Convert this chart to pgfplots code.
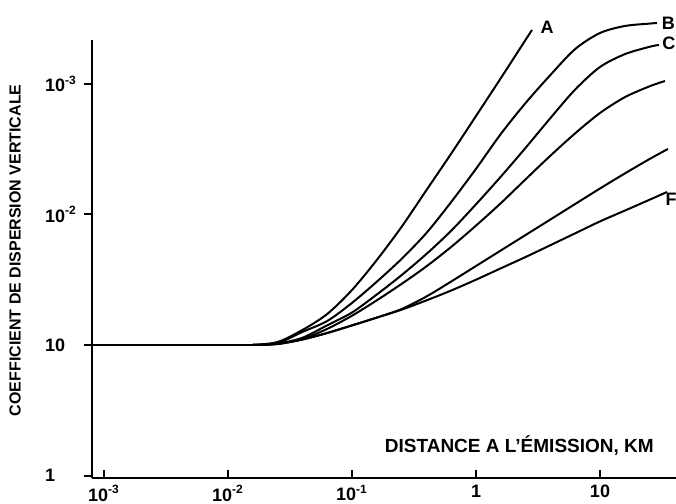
\documentclass[border=0pt]{standalone}
\usepackage{pgfplots}
\pgfplotsset{compat=1.18}
\usepackage{fontspec}
\setmainfont{Liberation Sans}

\begin{document}
\begin{tikzpicture}
\begin{axis}[
  scale only axis,
  width=292pt, height=219pt,
  xmode=log, ymode=log,
  xmin=0.0008, xmax=41,
  ymin=0.957, ymax=2173,
  axis x line=bottom, axis y line=left,
  axis line style={-, line width=1.2pt},
  xminorticks=false, yminorticks=false,
  xtick={0.001,0.01,0.1,1,10},
  xticklabels={10\textsuperscript{-3},10\textsuperscript{-2},10\textsuperscript{-1},1,10},
  ytick={1,10,100,1000},
  yticklabels={1,10,10\textsuperscript{-2},10\textsuperscript{-3}},
  tick align=inside,
  major tick length=4pt,
  tick style={line width=1pt, black},
  ytick style={xshift=-4pt},
  ticklabel style={font=\bfseries\fontsize{9}{10}\selectfont},
  yticklabel style={anchor=west, xshift=-27pt},
  /pgf/number format/assume math mode=true,
  clip=false,
  crv/.style={black, line width=1pt, smooth, no markers, solid},
]
% common flat part
\addplot[black, line width=1pt, no markers] coordinates {(0.0008,10) (0.01585,10)};
% A
\addplot[crv] coordinates {
  (0.01585,10) (0.02512,10.54) (0.03981,13.03) (0.06310,17.28)
  (0.1,26.40) (0.1585,44.80) (0.2512,80.49) (0.3981,153.6) (0.6310,292.9)
  (1,568.5) (1.585,1108) (2.512,2181) (2.829,2593)};
% B
\addplot[crv] coordinates {
  (0.01585,10) (0.02512,10.36) (0.03981,12.60) (0.06310,15.27)
  (0.1,21.02) (0.1585,30.56) (0.2512,45.69) (0.3981,72.13) (0.6310,124.7)
  (1,223.9) (1.585,414.0) (2.512,715.2) (3.981,1172) (6.310,1854)
  (10,2459) (15.85,2782) (25.12,2903) (28.84,2934)};
% C
\addplot[crv] coordinates {
  (0.01585,10) (0.02512,10.27) (0.03981,11.36) (0.06310,14.16)
  (0.1,17.74) (0.1585,24.38) (0.2512,34.32) (0.3981,49.81) (0.6310,75.14)
  (1,119.7) (1.585,194.9) (2.512,324.4) (3.981,547.9) (6.310,907.7)
  (10,1350) (15.85,1692) (25.12,1928) (29.9,1991)};
% D
\addplot[crv] coordinates {
  (0.01585,10) (0.02512,10.23) (0.03981,11.12) (0.06310,13.29)
  (0.1,16.77) (0.1585,22.00) (0.2512,29.39) (0.3981,40.03) (0.6310,56.46)
  (1,82.21) (1.585,122.1) (2.512,186.1) (3.981,282.2) (6.310,419.0)
  (10,599.7) (15.85,792.4) (25.12,960.3) (33.42,1054)};
% E
\addplot[crv] coordinates {
  (0.01585,10) (0.02512,10.18) (0.03981,11.02) (0.06310,12.36)
  (0.1,14.13) (0.1585,16.22) (0.2512,18.87) (0.3981,23.53) (0.6310,30.66)
  (1,40.31) (1.585,52.98) (2.512,69.65) (3.981,91.55) (6.310,120.4)
  (10,158.2) (15.85,206.2) (25.12,266.2) (35.32,317.7)};
% F
\addplot[crv] coordinates {
  (0.01585,10) (0.02512,10.18) (0.03981,11.02) (0.06310,12.36)
  (0.1,14.13) (0.1585,16.22) (0.2512,18.65) (0.3981,21.97) (0.6310,26.16)
  (1,31.65) (1.585,38.70) (2.512,47.24) (3.981,58.19) (6.310,71.77)
  (10,88.53) (15.85,107.1) (25.12,129.8) (34.67,148.7)};
% curve labels
\node[font=\bfseries\fontsize{9}{10}\selectfont] at (axis cs:3.74,2735) {A};
\node[font=\bfseries\fontsize{9}{10}\selectfont] at (axis cs:35.6,2931) {B};
\node[font=\bfseries\fontsize{9}{10}\selectfont] at (axis cs:35.98,2061) {C};
\node[font=\bfseries\fontsize{9}{10}\selectfont] at (axis cs:37.38,131.5) {F};
% axis titles
\node[font=\bfseries\fontsize{9.5}{11}\selectfont, anchor=east] at (rel axis cs:0.974,0.075) {DISTANCE A L'ÉMISSION, KM};
\node[font=\bfseries\fontsize{8}{9}\selectfont, rotate=90] at ([xshift=-38.5pt]rel axis cs:0,0.52) {COEFFICIENT DE DISPERSION VERTICALE};
\coordinate (O) at (rel axis cs:0,0);
\end{axis}
\pgfresetboundingbox
\path[use as bounding box] ([shift={(-46pt,-13pt)}]O) rectangle ([shift={(292pt,239pt)}]O);
\end{tikzpicture}
\end{document}
